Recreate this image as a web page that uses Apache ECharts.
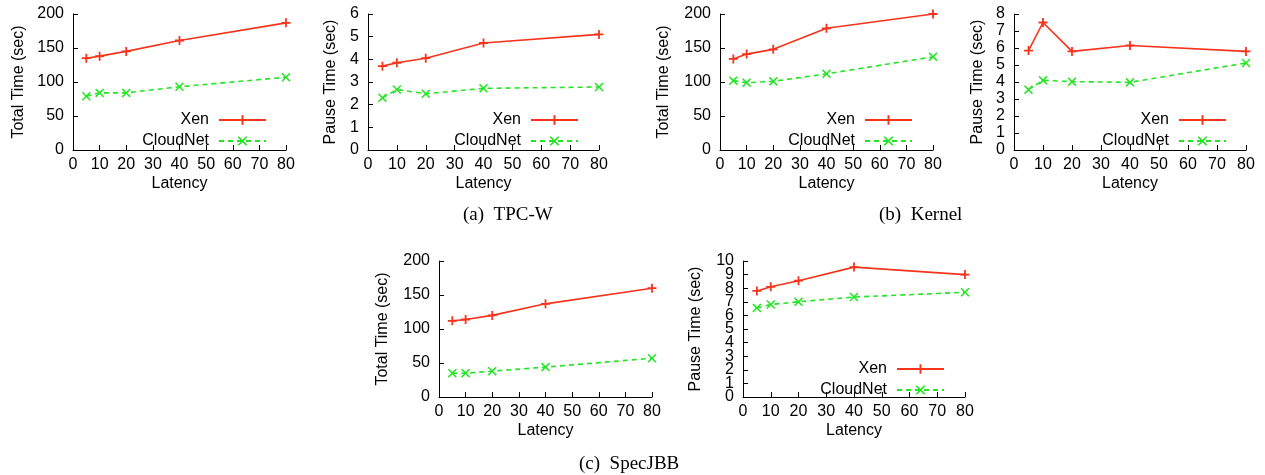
<!DOCTYPE html>
<html>
<head>
<meta charset="utf-8">
<title>CloudNet vs Xen</title>
<script src="https://cdn.jsdelivr.net/npm/echarts@6/dist/echarts.min.js"></script>
<style>
  html, body { margin: 0; padding: 0; background: #fff; }
  #container { width: 1265px; height: 475px; }
</style>
</head>
<body>
<div id="container"></div>
<script>
// latency (x axis) shared by every panel
const latency = [5, 10, 20, 40, 80];

// (a) TPC-W
const tpcwTotalXen = [135, 138, 145, 161, 187];
const tpcwTotalCloudNet = [79, 84, 84, 93, 107];
const tpcwPauseXen = [3.7, 3.85, 4.05, 4.72, 5.1];
const tpcwPauseCloudNet = [2.3, 2.67, 2.48, 2.72, 2.78];

// (b) Kernel
const kernelTotalXen = [134, 141, 148, 179, 200];
const kernelTotalCloudNet = [102, 99, 101, 112, 137];
const kernelPauseXen = [5.85, 7.5, 5.8, 6.15, 5.8];
const kernelPauseCloudNet = [3.55, 4.1, 4.02, 3.98, 5.12];

// (c) SpecJBB
const specTotalXen = [112, 114, 120, 137, 160];
const specTotalCloudNet = [35, 35, 38, 44, 57];
const specPauseXen = [7.8, 8.1, 8.55, 9.55, 9.0];
const specPauseCloudNet = [6.55, 6.8, 7.0, 7.35, 7.7];

const captions = ["(a)  TPC-W", "(b)  Kernel", "(c)  SpecJBB"];

const font = "Liberation Sans";
const xenColor = "#f8331c";
const cloudColor = "#22e622";
// gnuplot style point markers
const plusSymbol = "path://M4,0H6V4H10V6H6V10H4V6H0V4H4Z";
const crossSymbol =
  "path://M0,1.2L1.2,0L5,3.8L8.8,0L10,1.2L6.2,5L10,8.8L8.8,10L5,6.2L1.2,10L0,8.8L3.8,5Z";

// one entry per panel
const panels = [
  { grid: { left: 73, top: 14, width: 213, height: 136 }, yName: "Total Time (sec)", nameGap: 46, max: 200, interval: 50, xen: tpcwTotalXen, cloud: tpcwTotalCloudNet, legend: { right: 998, top: 112 } },
  { grid: { left: 368, top: 14, width: 231, height: 136 }, yName: "Pause Time (sec)", nameGap: 29, max: 6, interval: 1, xen: tpcwPauseXen, cloud: tpcwPauseCloudNet, legend: { right: 686, top: 112 } },
  { grid: { left: 720, top: 14, width: 213, height: 136 }, yName: "Total Time (sec)", nameGap: 48, max: 200, interval: 50, xen: kernelTotalXen, cloud: kernelTotalCloudNet, legend: { right: 352, top: 112 } },
  { grid: { left: 1014, top: 14, width: 232, height: 136 }, yName: "Pause Time (sec)", nameGap: 28, max: 8, interval: 1, xen: kernelPauseXen, cloud: kernelPauseCloudNet, legend: { right: 38, top: 112 } },
  { grid: { left: 439, top: 261, width: 213, height: 136 }, yName: "Total Time (sec)", nameGap: 48, max: 200, interval: 50, xen: specTotalXen, cloud: specTotalCloudNet, legend: null },
  { grid: { left: 743, top: 261, width: 222, height: 136 }, yName: "Pause Time (sec)", nameGap: 39, max: 10, interval: 1, xen: specPauseXen, cloud: specPauseCloudNet, legend: { right: 320, top: 361 }, dense: true },
];

const axisLine = { show: true, lineStyle: { color: "#000", width: 1 } };
const axisTick = { show: true, inside: true, length: 5, lineStyle: { color: "#000" } };
const labelStyle = { color: "#000", fontFamily: font, fontSize: 16 };

const grids = [];
const xAxes = [];
const yAxes = [];
const series = [];
const legends = [];

panels.forEach((p, i) => {
  grids.push(p.grid);
  xAxes.push({
    type: "value",
    gridIndex: i,
    min: 0,
    max: 80,
    interval: 10,
    name: "Latency",
    nameLocation: "middle",
    nameGap: 26,
    nameTextStyle: labelStyle,
    axisLine: axisLine,
    axisTick: axisTick,
    axisLabel: { ...labelStyle, margin: 7, showMinLabel: true, showMaxLabel: true },
    splitLine: { show: false },
  });
  yAxes.push({
    type: "value",
    gridIndex: i,
    min: 0,
    max: p.max,
    interval: p.interval,
    name: p.yName,
    nameLocation: "middle",
    nameGap: p.nameGap,
    nameTextStyle: labelStyle,
    axisLine: axisLine,
    axisTick: axisTick,
    axisLabel: {
      ...labelStyle,
      margin: 9,
      showMinLabel: true,
      showMaxLabel: true,
      // 0..10 panel: echarts drops labels next to min/max, odd ones go on a helper axis below
      formatter: p.dense ? (v) => (v % 2 === 0 ? String(v) : "") : "{value}",
    },
    splitLine: { show: false },
  });
  series.push({
    name: "Xen",
    type: "line",
    xAxisIndex: i,
    yAxisIndex: i,
    data: latency.map((x, k) => [x, p.xen[k]]),
    symbol: plusSymbol,
    symbolSize: 9,
    showAllSymbol: true,
    color: xenColor,
    lineStyle: { color: xenColor, width: 1.6 },
    itemStyle: { color: xenColor },
    animation: false,
  });
  series.push({
    name: "CloudNet",
    type: "line",
    xAxisIndex: i,
    yAxisIndex: i,
    data: latency.map((x, k) => [x, p.cloud[k]]),
    symbol: crossSymbol,
    symbolSize: 9,
    showAllSymbol: true,
    color: cloudColor,
    lineStyle: { color: cloudColor, width: 1.6, type: [5, 4] },
    itemStyle: { color: cloudColor },
    animation: false,
  });
  if (p.legend) {
    legends.push({
      data: ["Xen", "CloudNet"],
      orient: "vertical",
      align: "right",
      right: p.legend.right,
      top: p.legend.top,
      padding: 0,
      itemWidth: 47,
      itemHeight: 12,
      itemGap: 5,
      selectedMode: false,
      textStyle: { ...labelStyle, width: 72, align: "right", padding: [0, 5, 0, 0] },
    });
  }
});

// helper axis for the odd labels (1..9) of the SpecJBB pause panel
const dense = panels[5].grid;
const step = dense.height / 10;
grids.push({ left: dense.left, top: dense.top + step, width: dense.width, height: dense.height - 2 * step });
xAxes.push({ type: "value", gridIndex: 6, min: 0, max: 80, show: false });
yAxes.push({
  type: "value",
  gridIndex: 6,
  min: 1,
  max: 9,
  interval: 2,
  axisLine: { show: false },
  axisTick: { show: false },
  axisLabel: { ...labelStyle, margin: 9 },
  splitLine: { show: false },
});

const titles = [
  { text: captions[0], left: 463, top: 206 },
  { text: captions[1], left: 879, top: 206 },
  { text: captions[2], left: 579, top: 455 },
].map((t) => ({
  ...t,
  padding: 0,
  textStyle: { fontFamily: "Liberation Serif", fontWeight: "normal", fontSize: 19, color: "#000" },
}));

const myChart = echarts.init(document.getElementById("container"), null, { renderer: "canvas" });
myChart.setOption({
  animation: false,
  backgroundColor: "#fff",
  title: titles,
  grid: grids,
  xAxis: xAxes,
  yAxis: yAxes,
  legend: legends,
  series: series,
});
</script>
</body>
</html>
